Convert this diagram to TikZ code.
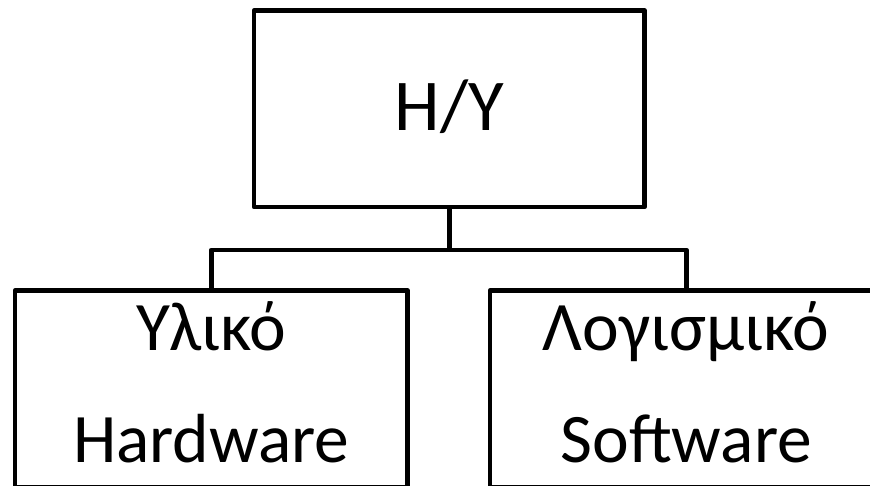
\documentclass[tikz,border=0pt]{standalone}
\usepackage{fontspec}
\setmainfont{Carlito}
\begin{document}
\begin{tikzpicture}[x=1pt,y=-1pt,
  box/.style={draw,line width=4.5pt,line join=round,minimum width=392.5pt,minimum height=196.5pt,inner sep=0pt},
  word/.style={anchor=base,inner sep=0pt,font=\fontsize{69.5}{80}\selectfont},
  wire/.style={line width=4.5pt,line join=round}]
\useasboundingbox (0,0) rectangle (870,485);
% the three boxes
\node[box,minimum width=390.5pt] (pc) at (449.3,108.75) {};
\node[box] (hw) at (211.25,388.75) {};
\node[box] (sw) at (686.25,388.75) {};
% their texts
\node[word,font=\fontsize{73}{80}\selectfont] (pcname) at (449.3,130) {H/Y};
\node[word] (hwgr) at (211.25,350) {Υλικό};
\node[word] (hwen) at (211.25,462) {Hardware};
\node[word] (swgr) at (686.25,350) {Λογισμικό};
\node[word] (swen) at (686.25,462) {Software};
% tree lines
\draw[wire] (pc.south) -- ++(0,40.7) -| (hw.north);
\draw[wire] (pc.south) -- ++(0,40.7) -| (sw.north);
\end{tikzpicture}
\end{document}
